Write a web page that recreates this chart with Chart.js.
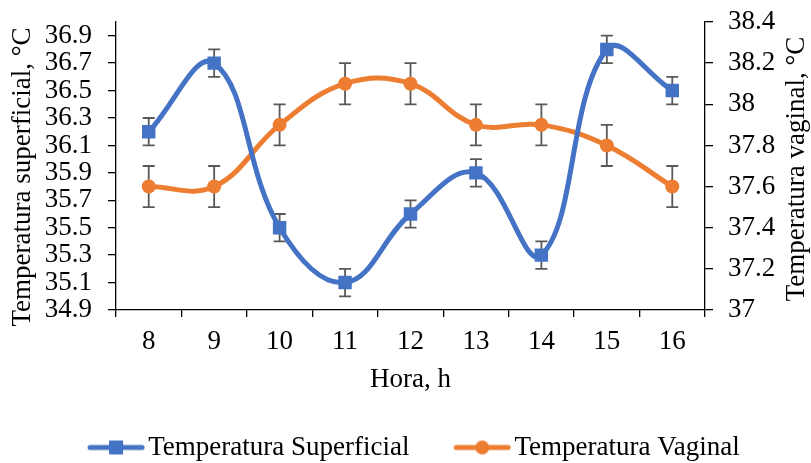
<!DOCTYPE html>
<html>
<head>
<meta charset="utf-8">
<script src="https://cdn.jsdelivr.net/npm/chart.js@4.4.1/dist/chart.umd.min.js"></script>
<style>
  html, body { margin: 0; padding: 0; background: #fff; }
  #wrap { width: 811px; height: 463px; }
</style>
</head>
<body>
<div id="wrap"><canvas id="grafico" width="811" height="463"></canvas></div>
<script>
// Datos
const horas = ['8', '9', '10', '11', '12', '13', '14', '15', '16'];
const tempSuperficial = [36.2, 36.7, 35.5, 35.1, 35.6, 35.9, 35.3, 36.8, 36.5];
const errSuperficial = [0.1, 0.1, 0.1, 0.1, 0.1, 0.1, 0.1, 0.1, 0.1];
const tempVaginal = [37.6, 37.6, 37.9, 38.1, 38.1, 37.9, 37.9, 37.8, 37.6];
const errVaginal = [0.1, 0.1, 0.1, 0.1, 0.1, 0.1, 0.1, 0.1, 0.1];
const ticksSuperficial = [34.9, 35.1, 35.3, 35.5, 35.7, 35.9, 36.1, 36.3, 36.5, 36.7, 36.9];
const ticksVaginal = [37, 37.2, 37.4, 37.6, 37.8, 38, 38.2, 38.4];

const AZUL = '#4472C4';
const NARANJA = '#ED7D31';
const FUENTE = '"Liberation Serif", "Times New Roman", serif';

Chart.defaults.font.family = FUENTE;
Chart.defaults.font.size = 27;
Chart.defaults.color = '#000';

// Imagen para la leyenda: linea con marcador (la parte visible queda a la derecha)
function imagenLeyenda(color, forma) {
    const c = document.createElement('canvas');
    c.width = 110;
    c.height = 20;
    const g = c.getContext('2d');
    g.strokeStyle = color;
    g.fillStyle = color;
    g.lineWidth = 5;
    g.lineCap = 'round';
    g.beginPath();
    g.moveTo(55, 10);
    g.lineTo(107, 10);
    g.stroke();
    if (forma === 'rect') {
        g.fillRect(81 - 7, 3, 14, 14);
    } else {
        g.beginPath();
        g.arc(81, 10, 7, 0, Math.PI * 2);
        g.fill();
    }
    return c;
}

// Barras de error
const barrasError = {
    id: 'barrasError',
    beforeDatasetsDraw(chart) {
        const ctx = chart.ctx;
        ctx.save();
        ctx.strokeStyle = '#595959';
        ctx.lineWidth = 1.8;
        chart.data.datasets.forEach((ds, i) => {
            const meta = chart.getDatasetMeta(i);
            const escala = chart.scales[meta.yAxisID];
            meta.data.forEach((pt, j) => {
                const arriba = escala.getPixelForValue(ds.data[j] + ds.errores[j]);
                const abajo = escala.getPixelForValue(ds.data[j] - ds.errores[j]);
                ctx.beginPath();
                ctx.moveTo(pt.x, arriba);
                ctx.lineTo(pt.x, abajo);
                ctx.moveTo(pt.x - 6, arriba);
                ctx.lineTo(pt.x + 6, arriba);
                ctx.moveTo(pt.x - 6, abajo);
                ctx.lineTo(pt.x + 6, abajo);
                ctx.stroke();
            });
        });
        ctx.restore();
    }
};

// Titulos de los ejes verticales (ambos leidos de abajo hacia arriba)
const titulosEjes = {
    id: 'titulosEjes',
    afterDraw(chart) {
        const {ctx, chartArea} = chart;
        const medio = (chartArea.top + chartArea.bottom) / 2;
        const titulos = [
            ['Temperatura superficial, °C', chart.scales.y.left + 23, medio + 11],
            ['Temperatura vaginal, °C', chart.scales.y1.right + 12, medio + 3]
        ];
        ctx.save();
        ctx.font = '27px ' + FUENTE;
        ctx.fillStyle = '#000';
        ctx.textAlign = 'center';
        ctx.textBaseline = 'middle';
        titulos.forEach(([texto, x, y]) => {
            ctx.save();
            ctx.translate(x, y);
            ctx.rotate(-Math.PI / 2);
            ctx.fillText(texto, 0, 0);
            ctx.restore();
        });
        ctx.restore();
    }
};

const ejeComun = {
    grid: { drawOnChartArea: false, color: '#000', lineWidth: 1.3, tickLength: 8 },
    border: { color: '#000', width: 1.3 }
};

// Sin relleno extra arriba/abajo por las etiquetas de los ejes Y
function sinRelleno(s) {
    s.paddingTop = 0;
    s.paddingBottom = 0;
}

new Chart(document.getElementById('grafico'), {
    type: 'line',
    data: {
        labels: horas,
        datasets: [{
            label: 'Temperatura Superficial',
            data: tempSuperficial,
            errores: errSuperficial,
            yAxisID: 'y',
            borderColor: AZUL,
            backgroundColor: AZUL,
            borderWidth: 5,
            tension: 0.4,
            pointStyle: 'rect',
            pointRadius: 9.5,
            pointBorderWidth: 0
        }, {
            label: 'Temperatura Vaginal',
            data: tempVaginal,
            errores: errVaginal,
            yAxisID: 'y1',
            borderColor: NARANJA,
            backgroundColor: NARANJA,
            borderWidth: 5,
            tension: 0.4,
            pointStyle: 'circle',
            pointRadius: 7,
            pointBorderWidth: 0
        }]
    },
    options: {
        responsive: false,
        animation: false,
        devicePixelRatio: 1,
        layout: { padding: { top: 22, left: 0, right: 26, bottom: -8 } },
        plugins: {
            tooltip: { enabled: false },
            legend: {
                position: 'bottom',
                labels: {
                    usePointStyle: true,
                    pointStyleWidth: 89.5,
                    padding: 2,
                    color: '#000',
                    generateLabels(chart) {
                        const items = Chart.defaults.plugins.legend.labels.generateLabels(chart);
                        items[0].pointStyle = imagenLeyenda(AZUL, 'rect');
                        items[1].pointStyle = imagenLeyenda(NARANJA, 'circle');
                        return items;
                    }
                }
            }
        },
        scales: {
            x: {
                offset: true,
                grid: { ...ejeComun.grid, offset: true, tickLength: 7 },
                border: ejeComun.border,
                ticks: { padding: 9, maxRotation: 0, autoSkip: false },
                title: { display: true, text: 'Hora, h', padding: { top: 0, bottom: 36 } },
                afterFit(s) { s.height = 122; }
            },
            y: {
                position: 'left',
                min: 34.9,
                max: 37.0,
                grid: ejeComun.grid,
                border: ejeComun.border,
                ticks: { padding: 16, autoSkip: false, callback: v => v.toFixed(1) },
                afterBuildTicks(s) { s.ticks = ticksSuperficial.map(v => ({ value: v })); },
                afterFit(s) { s.width = 116; sinRelleno(s); }
            },
            y1: {
                position: 'right',
                min: 37,
                max: 38.4,
                grid: ejeComun.grid,
                border: ejeComun.border,
                ticks: { padding: 15, autoSkip: false, callback: v => String(Math.round(v * 10) / 10) },
                afterBuildTicks(s) { s.ticks = ticksVaginal.map(v => ({ value: v })); },
                afterFit(s) { s.width = 80; sinRelleno(s); }
            }
        }
    },
    plugins: [barrasError, titulosEjes]
});
</script>
</body>
</html>
